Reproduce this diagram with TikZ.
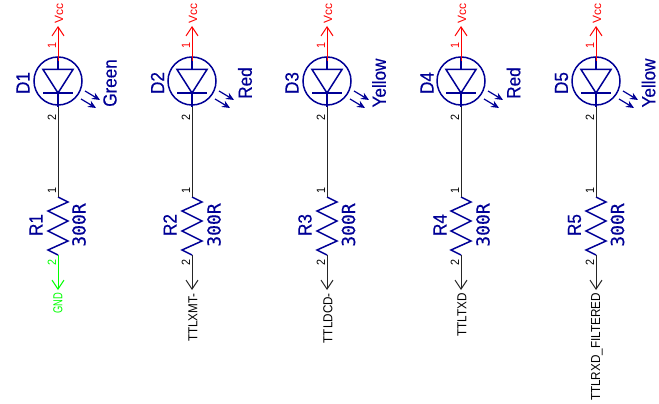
\documentclass[tikz,border=0pt]{standalone}
\usepackage{fontspec}
\setmainfont{Liberation Sans}
\newfontfamily\reffont[FakeBold=0.3]{Liberation Sans}
\newfontfamily\valfont[FakeBold=0.3]{DejaVu Sans Mono}
\usetikzlibrary{arrows.meta}

\definecolor{symblue}{RGB}{0,0,150}

\tikzstyle{sym} = [draw=symblue, line width=1.5pt]
\tikzstyle{ledcirc} = [sym, circle, minimum size=48pt, inner sep=0pt]
\tikzstyle{wire} = [draw=black!85, line width=1pt]
\tikzstyle{vccwire} = [draw=red, line width=1pt]
\tikzstyle{gndwire} = [draw=green, line width=1pt]
\tikzstyle{refdes} = [text=symblue, rotate=90, xscale=0.9, font=\reffont\fontsize{19}{19}\selectfont, inner sep=0pt]
\tikzstyle{value} = [text=symblue, rotate=90, font=\valfont\fontsize{18}{18}\selectfont, inner sep=0pt]
\tikzstyle{pin} = [rotate=90, xscale=0.9, font=\fontsize{12}{12}\selectfont, inner sep=0pt]
\tikzstyle{net} = [rotate=90, xscale=0.9, inner sep=0pt, anchor=east, font=\fontsize{13}{13}\selectfont]
\tikzstyle{vccnet} = [rotate=90, inner sep=0pt, anchor=east, text=red, font=\fontsize{12}{12}\selectfont]
\tikzstyle{gndnet} = [rotate=90, xscale=0.72, inner sep=0pt, anchor=east, text=green, font=\fontsize{13}{13}\selectfont]

% LED symbol: circle, triangle, bar, two arrows
\newcommand{\ledsym}[2]{
    \node [ledcirc] (#1) at (#2,81) {};
    \coordinate (#1top) at (#2,61);
    \coordinate (#1bot) at (#2,107);
    \begin{scope}[shift={(#1.center)}]
        \draw [sym] (0,-24) -- (0,-11.5);
        \draw [sym] (-15,-11.5) -- (15,-11.5) -- (0,12) -- cycle;
        \draw [sym] (-15,12) -- (15,12);
        \draw [sym] (0,12) -- (0,26);
        \draw [sym, -{Stealth[length=8pt,width=7pt]}, line width=1.2pt] (27,10) -- (42,19);
        \draw [sym, -{Stealth[length=8pt,width=7pt]}, line width=1.2pt] (23,18) -- (38,27);
    \end{scope}
}
% resistor symbol
\newcommand{\ressym}[2]{
    \coordinate (#1a) at (#2,197);
    \coordinate (#1b) at (#2,255);
    \draw [sym] (#1a) -- ++(10,5) -- ++(-20,9) -- ++(20,10) -- ++(-20,10)
        -- ++(20,10) -- ++(-20,9) -- (#1b);
}

\begin{document}
\begin{tikzpicture}[x=1pt, y=-1pt, >={Straight Barb[length=9pt,width=12pt]}]
    \useasboundingbox (0,0) rectangle (659,404);

    % first column
    \ledsym{D1}{58}
    \ressym{R1}{58}
    \coordinate (vcc1) at (58,26);
    \coordinate (net1) at (58,290);
    \draw [vccwire, ->] (D1top) -- (vcc1);
    \draw [wire] (D1bot) -- (R1a);
    \draw [gndwire, ->] (R1b) -- (net1);
    \node [refdes] (D1ref) at (23,83) {D1};
    \node [refdes] (D1val) at (110,83) {Green};
    \node [refdes] (R1ref) at (36,225) {R1};
    \node [value] (R1val) at (79,225) {300R};
    \node [pin, text=red] (D1p1) at (52,45) {1};
    \node [pin] (D1p2) at (52,117) {2};
    \node [pin] (R1p1) at (52,190) {1};
    \node [pin, text=green] (R1p2) at (52,262) {2};
    \node [vccnet] (vcct1) at (59,3) {Vcc};
    \node [gndnet] (nett1) at (58,293) {GND};

    % second column
    \ledsym{D2}{192}
    \ressym{R2}{192}
    \coordinate (vcc2) at (192,26);
    \coordinate (net2) at (192,290);
    \draw [vccwire, ->] (D2top) -- (vcc2);
    \draw [wire] (D2bot) -- (R2a);
    \draw [wire, ->] (R2b) -- (net2);
    \node [refdes] (D2ref) at (157.5,83) {D2};
    \node [refdes] (D2val) at (245,83) {Red};
    \node [refdes] (R2ref) at (170,225) {R2};
    \node [value] (R2val) at (214,225) {300R};
    \node [pin, text=red] (D2p1) at (186,45) {1};
    \node [pin] (D2p2) at (186,117) {2};
    \node [pin] (R2p1) at (186,190) {1};
    \node [pin] (R2p2) at (186,262) {2};
    \node [vccnet] (vcct2) at (193,3) {Vcc};
    \node [net] (nett2) at (193,293) {TTLXMT-};

    % third column
    \ledsym{D3}{327}
    \ressym{R3}{327}
    \coordinate (vcc3) at (327,26);
    \coordinate (net3) at (327,290);
    \draw [vccwire, ->] (D3top) -- (vcc3);
    \draw [wire] (D3bot) -- (R3a);
    \draw [wire, ->] (R3b) -- (net3);
    \node [refdes] (D3ref) at (292,83) {D3};
    \node [refdes] (D3val) at (379,83) {Yellow};
    \node [refdes] (R3ref) at (305,225) {R3};
    \node [value] (R3val) at (348.5,225) {300R};
    \node [pin, text=red] (D3p1) at (321,45) {1};
    \node [pin] (D3p2) at (321,117) {2};
    \node [pin] (R3p1) at (321,190) {1};
    \node [pin] (R3p2) at (321,262) {2};
    \node [vccnet] (vcct3) at (328,3) {Vcc};
    \node [net] (nett3) at (328,293) {TTLDCD-};

    % fourth column
    \ledsym{D4}{461}
    \ressym{R4}{461}
    \coordinate (vcc4) at (461,26);
    \coordinate (net4) at (461,290);
    \draw [vccwire, ->] (D4top) -- (vcc4);
    \draw [wire] (D4bot) -- (R4a);
    \draw [wire, ->] (R4b) -- (net4);
    \node [refdes] (D4ref) at (427,83) {D4};
    \node [refdes] (D4val) at (513.5,83) {Red};
    \node [refdes] (R4ref) at (440,225) {R4};
    \node [value] (R4val) at (483,225) {300R};
    \node [pin, text=red] (D4p1) at (455,45) {1};
    \node [pin] (D4p2) at (455,117) {2};
    \node [pin] (R4p1) at (455,190) {1};
    \node [pin] (R4p2) at (455,262) {2};
    \node [vccnet] (vcct4) at (462,3) {Vcc};
    \node [net] (nett4) at (462,293) {TTLTXD};

    % fifth column
    \ledsym{D5}{596}
    \ressym{R5}{596}
    \coordinate (vcc5) at (596,26);
    \coordinate (net5) at (596,290);
    \draw [vccwire, ->] (D5top) -- (vcc5);
    \draw [wire] (D5bot) -- (R5a);
    \draw [wire, ->] (R5b) -- (net5);
    \node [refdes] (D5ref) at (561.5,83) {D5};
    \node [refdes] (D5val) at (648.5,83) {Yellow};
    \node [refdes] (R5ref) at (574.5,225) {R5};
    \node [value] (R5val) at (617.5,225) {300R};
    \node [pin, text=red] (D5p1) at (590,45) {1};
    \node [pin] (D5p2) at (590,117) {2};
    \node [pin] (R5p1) at (590,190) {1};
    \node [pin] (R5p2) at (590,262) {2};
    \node [vccnet] (vcct5) at (597,3) {Vcc};
    \node [net] (nett5) at (597,293) {TTLRXD\_FILTERED};
\end{tikzpicture}
\end{document}
